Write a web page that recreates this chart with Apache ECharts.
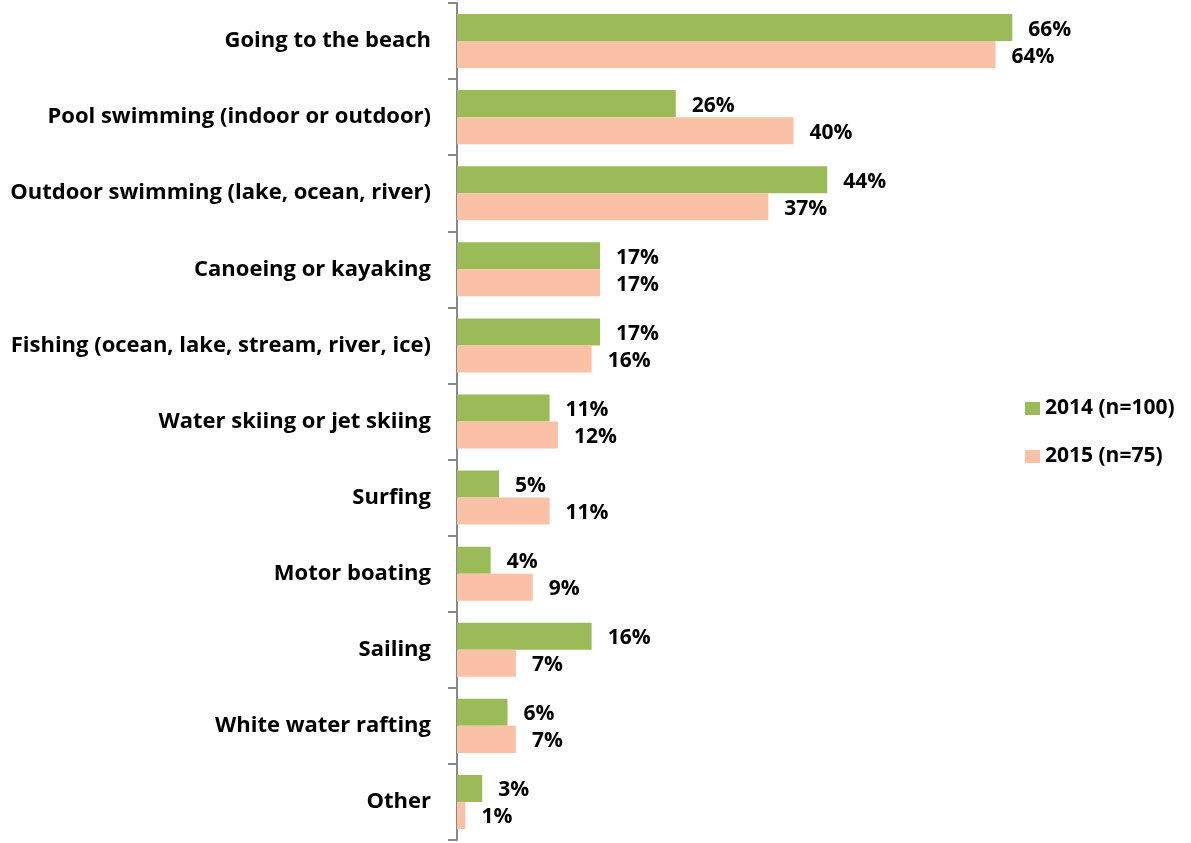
<!DOCTYPE html>
<html><head><meta charset="utf-8">
<script src="https://cdn.jsdelivr.net/npm/echarts@6/dist/echarts.min.js"></script>
<style>html,body{margin:0;padding:0;background:#fff}#c{width:1191px;height:843px}</style>
</head><body><div id="c"></div>
<script>
const categories = ["Going to the beach","Pool swimming (indoor or outdoor)","Outdoor swimming (lake, ocean, river)","Canoeing or kayaking","Fishing (ocean, lake, stream, river, ice)","Water skiing or jet skiing","Surfing","Motor boating","Sailing","White water rafting","Other"];
const values2014 = [66,26,44,17,17,11,5,4,16,6,3];
const values2015 = [64,40,37,17,16,12,11,9,7,7,1];
const seriesNames = ["2014 (n=100)","2015 (n=75)"];
const FONT = "Open Sans";
const chart = echarts.init(document.getElementById('c'));
const lbl = {show:true, position:'right', distance:16, offset:[0,2], formatter:'{c}%', color:'#000', fontFamily:FONT, fontWeight:'bold', fontSize:21};
chart.setOption({
  animation:false,
  grid:{left:457, top:3, width:589, height:837, containLabel:false},
  legend:{orient:'vertical', left:1020, top:393, itemWidth:15, itemHeight:13, itemGap:27, icon:'rect',
    textStyle:{fontFamily:FONT, fontWeight:'bold', fontSize:21, color:'#000'}, data:seriesNames},
  xAxis:{type:'value', min:0, max:70, show:false},
  yAxis:{type:'category', data:categories, inverse:true,
    axisLine:{lineStyle:{color:'#888', width:2}},
    axisTick:{show:true, length:9, lineStyle:{color:'#888', width:2}},
    axisLabel:{margin:26, color:'#000', fontFamily:FONT, fontWeight:'bold', fontSize:22}},
  series:[
    {name:seriesNames[0], type:'bar', data:values2014, itemStyle:{color:'#9BBB59'}, barGap:'0%', barCategoryGap:'29%', label:lbl},
    {name:seriesNames[1], type:'bar', data:values2015, itemStyle:{color:'#FAC1A7'}, barGap:'0%', barCategoryGap:'29%', label:lbl}
  ]
});
</script></body></html>
